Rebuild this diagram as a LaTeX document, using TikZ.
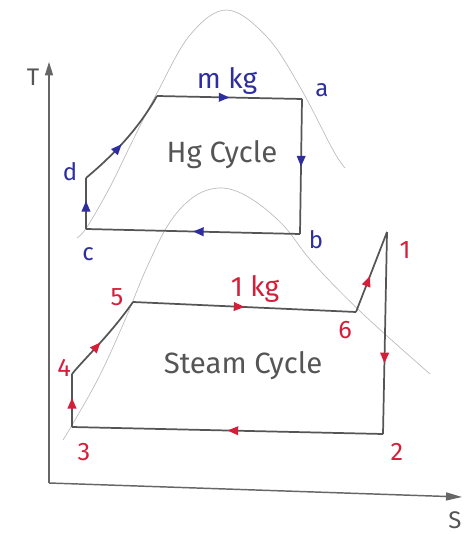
\documentclass[tikz,border=0pt]{standalone}
\usepackage{fontspec}
\setmainfont{Fira Sans}
\usetikzlibrary{arrows.meta,decorations.markings}
\definecolor{hgblue}{HTML}{2E2E9E}
\definecolor{stred}{HTML}{D41F3A}
\definecolor{ink}{HTML}{555555}
\definecolor{dome}{HTML}{BBBBBB}
\tikzset{
  x=0.75pt, y=-0.75pt,
  cycleline/.style={draw=ink, line width=1.3pt},
  axisline/.style={draw=ink!90, line width=1.1pt},
  domeline/.style={draw=dome, line width=0.5pt},
  redarr/.style={postaction={decorate,decoration={markings, mark=at position #1 with {\arrow[stred]{Triangle[length=8pt,width=6.5pt]}}}}},
  hgarr/.style={postaction={decorate,decoration={markings, mark=at position #1 with {\arrow[hgblue]{Triangle[length=8pt,width=6.5pt]}}}}},
  bluelab/.style={text=hgblue, font=\fontsize{18}{20}\selectfont, inner sep=1pt},
  redlab/.style={text=stred, font=\fontsize{19}{21}\selectfont, inner sep=1pt},
  kglab/.style={inner sep=1pt, font=\fontsize{21}{23}\selectfont},
  cyclab/.style={text=ink, font=\fontsize{22}{24}\selectfont, inner sep=1pt},
  axlab/.style={text=ink, font=\fontsize{18}{20}\selectfont, inner sep=1pt}
}
\begin{document}
\begin{tikzpicture}
\useasboundingbox (0,0) rectangle (471,534);
% domes
\draw[domeline] plot[smooth, tension=0.6] coordinates {(77,238) (87,227) (110,187) (133,140) (157,93) (190,35) (227,10) (267,37) (300,87) (333,150) (345,168)};
\draw[domeline] plot[smooth, tension=0.6] coordinates {(63,440) (75,420) (100,375) (125,320) (147,267) (170,222) (195,196) (222,188) (250,198) (283,225) (313,263) (363,314) (430,374)};
% axes
\coordinate (O) at (49,483);
\coordinate (Ttip) at (49,62);
\coordinate (Stip) at (462,497);
\draw[axisline, -{Triangle[length=10pt,width=6pt]}] (O) -- (Ttip);
\draw[axisline, -{Triangle[length=12pt,width=6pt]}] (O) -- (Stip);
\node[axlab] (T) at (33,77) {T};
\node[axlab] (S) at (455,520) {S};
% Hg cycle
\coordinate (c) at (86,229);
\coordinate (d) at (86,178);
\coordinate (e) at (157,96);
\coordinate (a) at (302,99);
\coordinate (b) at (300,234);
\draw[cycleline, hgarr=0.55] (c) -- (d);
\draw[cycleline, hgarr=0.45] (d) .. controls (105,162) and (135,135) .. (e);
\draw[cycleline, hgarr=0.5] (e) -- (a);
\draw[cycleline, hgarr=0.5] (a) -- (b);
\draw[cycleline, hgarr=0.5] (b) -- (c);
\node[bluelab] (la) at (322,90) {a};
\node[bluelab] (lb) at (316,240) {b};
\node[bluelab] (lc) at (88,254) {c};
\node[bluelab] (ld) at (70,172) {d};
\node[kglab, text=hgblue] (mkg) at (227,81) {m kg};
\node[cyclab] (hg) at (222,155) {Hg Cycle};
% Steam cycle
\coordinate (p3) at (72,427);
\coordinate (p4) at (72,374);
\coordinate (p5) at (133,302);
\coordinate (p6) at (356,312);
\coordinate (p1) at (387,232);
\coordinate (p2) at (383,434);
\draw[cycleline, redarr=0.55] (p3) -- (p4);
\draw[cycleline, redarr=0.45] (p4) .. controls (85,358) and (110,335) .. (p5);
\draw[cycleline, redarr=0.5] (p5) -- (p6);
\draw[cycleline, redarr=0.45] (p6) -- (p1);
\draw[cycleline, redarr=0.65] (p1) -- (p2);
\draw[cycleline, redarr=0.5] (p2) -- (p3);
\node[redlab] (l1) at (405,250) {1};
\node[redlab] (l2) at (397,452) {2};
\node[redlab] (l3) at (84,452) {3};
\node[redlab] (l4) at (64,368) {4};
\node[redlab] (l5) at (117,297) {5};
\node[redlab] (l6) at (345,330) {6};
\node[kglab, text=stred] (kg1) at (255,289) {1 kg};
\node[cyclab] (st) at (243,366) {Steam Cycle};
\end{tikzpicture}
\end{document}
